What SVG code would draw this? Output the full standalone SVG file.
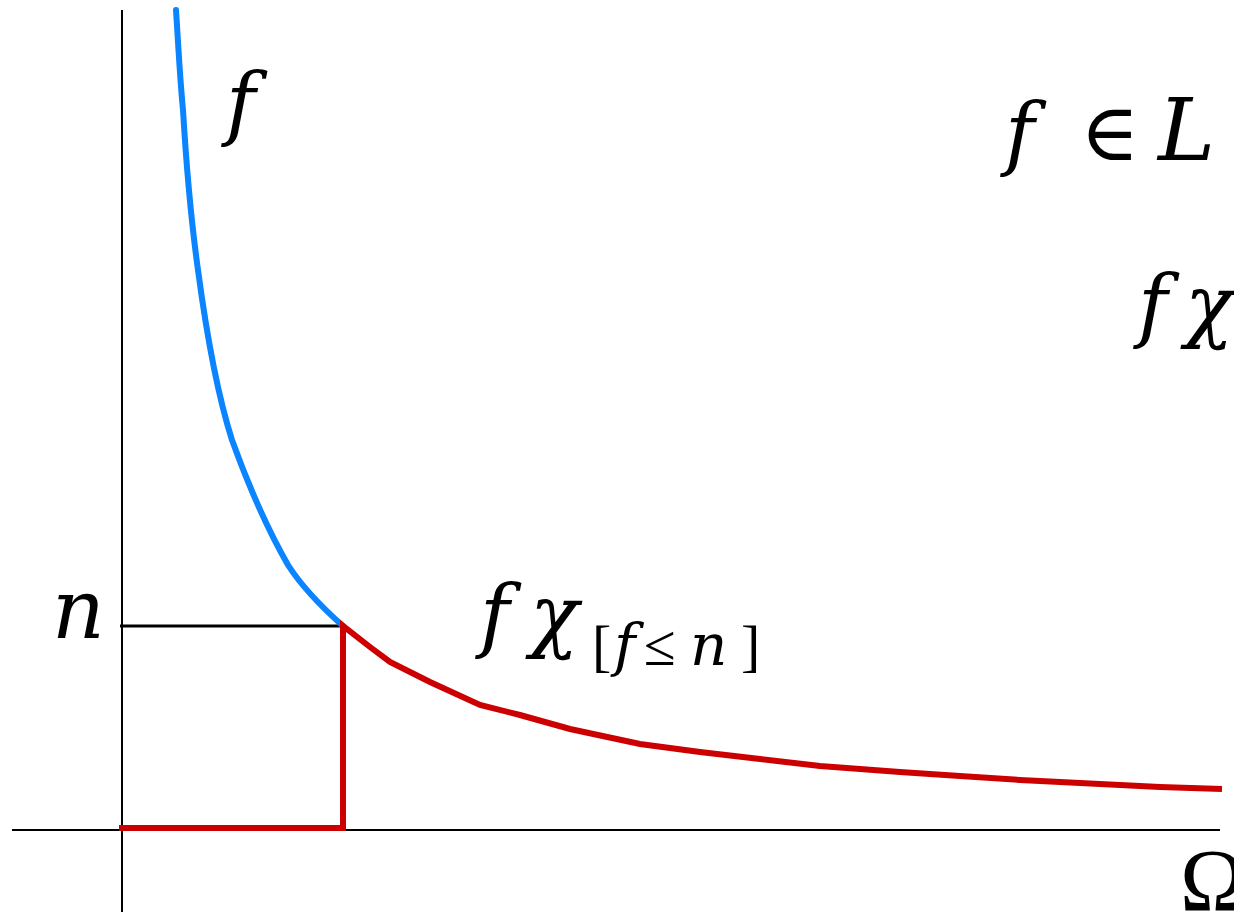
<svg xmlns="http://www.w3.org/2000/svg" width="1234" height="912" viewBox="0 0 1234 912">
<style>
.m{font-family:"DejaVu Serif","Liberation Serif",serif;font-style:italic;fill:#000}
.u{font-family:"Liberation Serif","DejaVu Serif",serif;font-style:normal;fill:#000}
.ax{stroke:#000;stroke-width:2;fill:none}
.blue{stroke:#0a84ff;stroke-width:6;fill:none;stroke-linejoin:round;stroke-linecap:round}
.red{stroke:#cc0000;stroke-width:6;fill:none;stroke-linejoin:miter}
</style>
<rect width="1234" height="912" fill="#fff"/>
<g id="axes">
<line class="ax" x1="122" y1="10" x2="122" y2="912"/>
<line class="ax" x1="12" y1="830" x2="1220" y2="830"/>
<line x1="120" y1="626" x2="345" y2="626" stroke="#000" stroke-width="3"/>
</g>
<g id="connectors">
<path class="blue" d="M176,10 C178,40 180,80 183,110 C186,160 191,220 198,270 C206,330 216,390 232,440 C250,490 268,530 288,565 C304,590 325,610 343,626"/>
<path class="red" d="M119,828 L343,828 L343,626 L370,647 L390,662 L430,682 L480,705 L520,715 L570,729 L640,744 L700,752 L760,759 L820,766 L900,772 L960,776 L1020,780 L1100,784 L1160,787 L1222,789"/>
</g>
<g id="labels">
<text class="m" x="226" y="130" font-size="80">f</text>
<text class="m" x="52" y="638" font-size="82">n</text>
<text class="m" font-size="80"><tspan x="480" y="642">f</tspan><tspan x="530" y="642">χ</tspan></text>
<text class="u" x="592" y="665" font-size="58">[</text>
<text class="m" x="614" y="665" font-size="58">f</text>
<text class="u" x="644" y="665" font-size="58">≤</text>
<text class="m" x="690" y="665" font-size="58">n</text>
<text class="u" x="741" y="665" font-size="58">]</text>
<text class="m" x="1005" y="160" font-size="80">f</text>
<text class="u" x="1080" y="160" font-size="80">∈</text>
<text class="m" x="1158" y="160" font-size="86">L</text>
<text class="m" font-size="80"><tspan x="1138" y="332">f</tspan><tspan x="1185" y="332">χ</tspan></text>
<text class="u" x="1180" y="910" font-size="88">Ω</text>
</g>
</svg>
